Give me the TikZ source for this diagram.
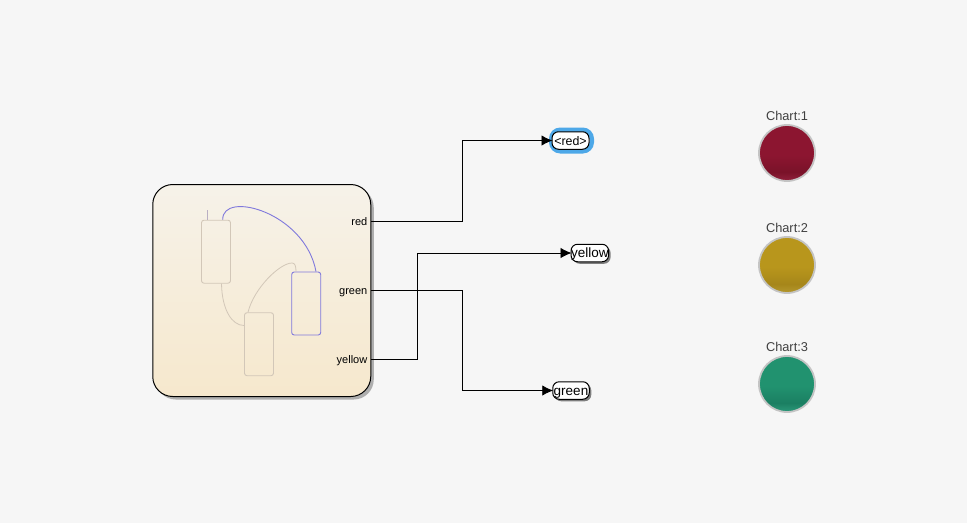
\documentclass[tikz,border=0pt]{standalone}
\usepackage{fontspec}
\setmainfont{Liberation Sans}
\usetikzlibrary{arrows.meta}
\usetikzlibrary{positioning}
\usetikzlibrary{shadows}

\definecolor{pagebg}{HTML}{F6F6F6}
\definecolor{charttop}{HTML}{F6F2E9}
\definecolor{chartbot}{HTML}{F6E8CD}
\definecolor{stateline}{HTML}{D2C7B8}
\definecolor{activeline}{HTML}{7F78DC}
\definecolor{halo}{HTML}{4DA8E8}
\definecolor{lampring}{HTML}{C4C4C4}
\definecolor{redbase}{HTML}{8C1530}
\definecolor{reddark}{HTML}{7A1229}
\definecolor{redrim}{HTML}{8E1F3A}
\definecolor{yellowbase}{HTML}{B8961C}
\definecolor{yellowdark}{HTML}{A6861A}
\definecolor{yellowrim}{HTML}{B2962C}
\definecolor{greenbase}{HTML}{21926F}
\definecolor{greendark}{HTML}{1B7F62}
\definecolor{greenrim}{HTML}{2A9677}
\pgfdeclareverticalshading{lampredshade}{100bp}{color(0bp)=(redrim); color(26bp)=(redrim); color(33bp)=(reddark); color(48bp)=(redbase); color(100bp)=(redbase)}
\pgfdeclareverticalshading{lampyellowshade}{100bp}{color(0bp)=(yellowrim); color(26bp)=(yellowrim); color(33bp)=(yellowdark); color(48bp)=(yellowbase); color(100bp)=(yellowbase)}
\pgfdeclareverticalshading{lampgreenshade}{100bp}{color(0bp)=(greenrim); color(26bp)=(greenrim); color(33bp)=(greendark); color(48bp)=(greenbase); color(100bp)=(greenbase)}

\tikzset{
  chartbox/.style={draw=black, line width=1pt, rounded corners=20pt, minimum width=218pt, minimum height=212pt, top color=charttop, bottom color=chartbot, drop shadow={shadow xshift=3pt, shadow yshift=-3pt, fill=black!55, opacity=0.55}},
  statebox/.style={draw=stateline, line width=0.9pt, rounded corners=2.5pt, minimum width=29pt, minimum height=63pt},
  portlabel/.style={inner sep=0pt, text height=8.6pt, text depth=0pt, font=\fontsize{11}{11}\selectfont, anchor=east},
  gototag/.style={draw=black, line width=1pt, fill=white, rounded corners=6.5pt, minimum height=17.5pt, inner sep=0pt, text height=10pt, text depth=0.5pt, font=\fontsize{12.4}{12.4}\selectfont},
  tagshadow/.style={font=\fontsize{13.5}{13.5}\selectfont, drop shadow={shadow xshift=2pt, shadow yshift=-2pt, fill=black!70, opacity=0.7}},
  lamp/.style={circle, draw=lampring, line width=1.8pt, minimum size=56pt, inner sep=0pt},
  lamptitle/.style={inner sep=0pt, text=black!75, font=\fontsize{12.8}{12.8}\selectfont},
  signal/.style={draw=black, line width=0.9pt, -{Latex[length=11pt,width=10.5pt]}, shorten >=-1pt}
}

\begin{document}
\begin{tikzpicture}[x=1pt, y=-1pt]
  \fill[pagebg] (0,0) rectangle (967,523);
  \useasboundingbox (0,0) rectangle (967,523);

  % chart block
  \node[chartbox] (chart) at (261.75,290.5) {};
  \node[statebox] (stateA) at (216,251.7) {};
  \node[statebox, draw=activeline] (stateB) at (306.2,303.5) {};
  \node[statebox] (stateC) at (259,344.2) {};

  % transitions
  \coordinate (initial) at (207.5,210);
  \draw[stateline!70!activeline, line width=0.9pt] (initial) -- (initial |- stateA.north);
  \draw[activeline, line width=0.9pt] ([xshift=6.7pt]stateA.north) .. controls (222,190) and (305,212) .. ([xshift=9.8pt]stateB.north);
  \draw[stateline, line width=0.8pt] ([xshift=5.5pt]stateA.south) .. controls (222,310) and (232,325.5) .. ([yshift=18.7pt]stateC.west);
  \draw[stateline, line width=0.8pt] ([xshift=-11pt]stateC.north) .. controls (254,288) and (280,263) .. (292,263) .. controls (295,263) and (296,266) .. ([xshift=-10.2pt]stateB.north);

  % ports
  \node[portlabel] (redport) at (367.5,221.5) {red};
  \node[portlabel] (greenport) at (367.5,290.5) {green};
  \node[portlabel] (yellowport) at (367.5,359) {yellow};

  % goto tags
  \node[gototag, draw=halo, line width=4.5pt, minimum width=40.5pt, minimum height=21.5pt, rounded corners=9pt] (halored) at (571.5,140.5) {};
  \node[gototag, minimum width=37pt] (gotored) at (570.5,140.5) {<red>};
  \node[gototag, tagshadow, minimum width=36.5pt] (gotoyellow) at (589.8,253) {yellow};
  \node[gototag, tagshadow, minimum width=36.5pt] (gotogreen) at (571,390.5) {green};

  % signal lines
  \draw[signal] (redport -| chart.east) -- ++(91,0) |- (gotored.west);
  \draw[signal] (greenport -| chart.east) -- ++(91,0) |- (gotogreen.west);
  \draw[signal] (yellowport -| chart.east) -- ++(46,0) |- (gotoyellow.west);

  % lamps
  \node[lamp, shading=lampredshade] (lampred) at (787,153) {};
  \node[lamp, shading=lampyellowshade] (lampyellow) at (787,265) {};
  \node[lamp, shading=lampgreenshade] (lampgreen) at (787,384) {};
  \node[lamptitle, above=3pt of lampred] (titlered) {Chart:1};
  \node[lamptitle, above=3pt of lampyellow] (titleyellow) {Chart:2};
  \node[lamptitle, above=3pt of lampgreen] (titlegreen) {Chart:3};
\end{tikzpicture}
\end{document}
